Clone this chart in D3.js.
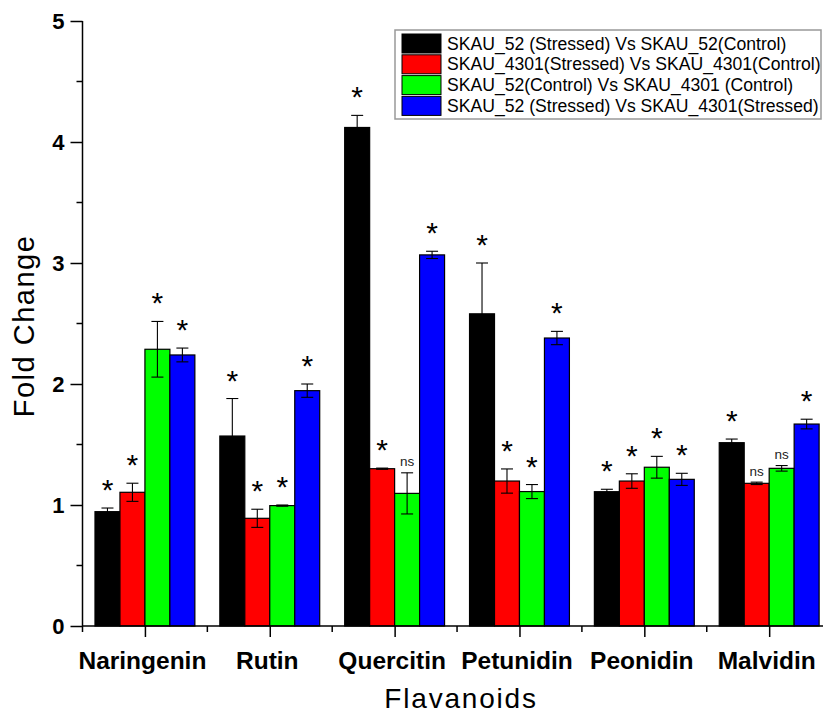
<!DOCTYPE html>
<html lang="en">
<head>
<meta charset="utf-8">
<script src="https://d3js.org/d3.v7.min.js"></script>
<style>
  body { margin: 0; background: #fff; overflow: hidden; }
  svg { display: block; font-family: 'Liberation Sans', Arial, sans-serif; }
</style>
</head>
<body>
<div id="chart"></div>
<script>
// ---------------- data ----------------
var categories = ["Naringenin", "Rutin", "Quercitin", "Petunidin", "Peonidin", "Malvidin"];
var seriesNames = [
  "SKAU_52 (Stressed) Vs SKAU_52(Control)",
  "SKAU_4301(Stressed) Vs SKAU_4301(Control)",
  "SKAU_52(Control) Vs SKAU_4301 (Control)",
  "SKAU_52 (Stressed) Vs SKAU_4301(Stressed)"
];
var seriesColors = ["#000000", "#ff0000", "#00ff00", "#0000ff"];

var stressed52 = [0.945, 1.57, 4.12, 2.58, 1.11, 1.515];
var stressed4301 = [1.105, 0.89, 1.30, 1.198, 1.198, 1.179];
var control52vs4301 = [2.287, 0.995, 1.096, 1.111, 1.312, 1.303];
var stressed52vs4301 = [2.24, 1.945, 3.067, 2.38, 1.212, 1.669];

var err52 = [0.03, 0.31, 0.10, 0.42, 0.02, 0.03];
var err4301 = [0.075, 0.075, 0.005, 0.10, 0.06, 0.01];
var errControl = [0.23, 0.005, 0.17, 0.058, 0.09, 0.023];
var errStressed = [0.057, 0.055, 0.03, 0.055, 0.05, 0.04];

var sig52 = ["*", "*", "*", "*", "*", "*"];
var sig4301 = ["*", "*", "*", "*", "*", "ns"];
var sigControl = ["*", "*", "ns", "*", "*", "ns"];
var sigStressed = ["*", "*", "*", "*", "*", "*"];

var yTicks = [0, 1, 2, 3, 4, 5];

var values = [stressed52, stressed4301, control52vs4301, stressed52vs4301];
var errors = [err52, err4301, errControl, errStressed];
var sigs = [sig52, sig4301, sigControl, sigStressed];

// ---------------- layout ----------------
var W = 823, H = 717;
var x0 = 82.5, yBottom = 626, yTop = 21;
var groupStep = 124.85;

var svg = d3.select("#chart").append("svg")
  .attr("width", W)
  .attr("height", H);

var x = d3.scaleLinear().domain([0.5, 6.5]).range([x0, x0 + 6 * groupStep]);
var y = d3.scaleLinear().domain([0, 5]).range([yBottom, yTop]);
var barW = 0.2; // in category units

// flat table of bars
var bars = [];
categories.forEach(function(c, i) {
  values.forEach(function(s, j) {
    bars.push({
      cat: i, ser: j, v: s[i], e: errors[j][i], sig: sigs[j][i],
      cx: i + 1 + (j - 1.5) * barW
    });
  });
});

// bars
svg.selectAll("rect.bar")
  .data(bars)
  .enter().append("rect")
  .attr("class", "bar")
  .attr("x", function(d) { return x(d.cx - barW / 2); })
  .attr("width", function(d) { return x(d.cx + barW / 2) - x(d.cx - barW / 2); })
  .attr("y", function(d) { return y(d.v); })
  .attr("height", function(d) { return y(0) - y(d.v); })
  .style("fill", function(d) { return seriesColors[d.ser]; })
  .style("stroke", "#000")
  .style("stroke-width", 1.2);

// error bars
var eb = svg.selectAll("g.err")
  .data(bars)
  .enter().append("g")
  .attr("class", "err")
  .style("stroke", "#000")
  .style("stroke-width", 1.1);

eb.append("line")
  .attr("x1", function(d) { return x(d.cx); })
  .attr("x2", function(d) { return x(d.cx); })
  .attr("y1", function(d) { return y(d.v - d.e); })
  .attr("y2", function(d) { return y(d.v + d.e); });
eb.append("line")
  .attr("x1", function(d) { return x(d.cx) - 6; })
  .attr("x2", function(d) { return x(d.cx) + 6; })
  .attr("y1", function(d) { return y(d.v + d.e); })
  .attr("y2", function(d) { return y(d.v + d.e); });
eb.append("line")
  .attr("x1", function(d) { return x(d.cx) - 6; })
  .attr("x2", function(d) { return x(d.cx) + 6; })
  .attr("y1", function(d) { return y(d.v - d.e); })
  .attr("y2", function(d) { return y(d.v - d.e); });

// significance labels
svg.selectAll("text.sig")
  .data(bars)
  .enter().append("text")
  .attr("class", "sig")
  .attr("text-anchor", "middle")
  .attr("x", function(d) { return x(d.cx); })
  .attr("y", function(d) {
    var top = y(d.v + d.e);
    return d.sig === "ns" ? top - 10 + 3.5 : top - 25 + 17;
  })
  .style("font-size", function(d) { return d.sig === "ns" ? "13.5px" : "30px"; })
  .style("fill", function(d) { return d.sig === "ns" ? "#222" : "#000"; })
  .text(function(d) { return d.sig; });

// ---------------- axes ----------------
var yAxis = d3.axisLeft(y).tickValues(yTicks).tickSize(12).tickPadding(6).tickFormat(d3.format("d"));
var gy = svg.append("g").attr("transform", "translate(" + x0 + ",0)").call(yAxis);
gy.select(".domain").attr("d", "M0," + yTop + "V" + yBottom).style("stroke-width", 1.5);
gy.selectAll(".tick line").style("stroke-width", 1.5);
gy.selectAll(".tick text")
  .style("font-family", "'Liberation Sans', Arial, sans-serif")
  .style("font-size", "22px").style("font-weight", "bold").style("fill", "#000")
  .attr("dy", "0.36em");
// minor y ticks
svg.append("g").selectAll("line")
  .data([0.5, 1.5, 2.5, 3.5, 4.5])
  .enter().append("line")
  .attr("x1", x0 - 6).attr("x2", x0)
  .attr("y1", function(d) { return y(d); }).attr("y2", function(d) { return y(d); })
  .style("stroke", "#000").style("stroke-width", 1.5);

var xAxis = d3.axisBottom(x).tickValues(d3.range(1, categories.length + 1)).tickSize(11).tickPadding(10)
  .tickFormat(function(d) { return categories[d - 1]; });
var gx = svg.append("g").attr("transform", "translate(0," + yBottom + ")").call(xAxis);
gx.select(".domain").attr("d", "M" + x0 + ",0H" + x(6.5)).style("stroke-width", 1.5);
gx.selectAll(".tick line").style("stroke-width", 1.5);
gx.selectAll(".tick text")
  .style("font-family", "'Liberation Sans', Arial, sans-serif")
  .style("font-size", "24.5px").style("font-weight", "bold").style("fill", "#000")
  .attr("x", -3).attr("dy", "0.9em");
// minor x ticks
svg.append("g").selectAll("line")
  .data(d3.range(0.5, categories.length + 0.6, 1))
  .enter().append("line")
  .attr("x1", function(d) { return x(d); }).attr("x2", function(d) { return x(d); })
  .attr("y1", yBottom).attr("y2", yBottom + 6)
  .style("stroke", "#000").style("stroke-width", 1.5);

// axis titles
svg.append("text")
  .attr("transform", "translate(34," + 326 + ") rotate(-90)")
  .attr("text-anchor", "middle")
  .style("font-size", "29px").style("letter-spacing", "1.5px")
  .text("Fold Change");

svg.append("text")
  .attr("x", (x(0.5) + x(6.5)) / 2 + 4)
  .attr("y", 708)
  .attr("text-anchor", "middle")
  .style("font-size", "28px").style("letter-spacing", "1.8px")
  .text("Flavanoids");

// ---------------- legend ----------------
var legend = svg.append("g").attr("transform", "translate(395,30)");
legend.append("rect")
  .attr("x", 0).attr("y", 0).attr("width", 426).attr("height", 89)
  .style("fill", "#fff").style("stroke", "#999").style("stroke-width", 1.5);

var rows = legend.selectAll("g.row")
  .data(seriesNames)
  .enter().append("g")
  .attr("class", "row")
  .attr("transform", function(d, i) { return "translate(0," + (4 + i * 20.8) + ")"; });
rows.append("rect")
  .attr("x", 7).attr("y", 0).attr("width", 39).attr("height", 19)
  .style("fill", function(d, i) { return seriesColors[i]; })
  .style("stroke", "#000").style("stroke-width", 1);
rows.append("text")
  .attr("x", 52).attr("y", 15.5)
  .style("font-size", "17.6px")
  .text(function(d) { return d; });
</script>
</body>
</html>
